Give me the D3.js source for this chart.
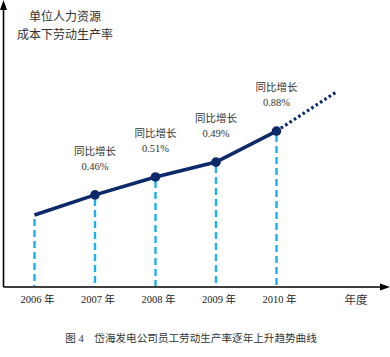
<!DOCTYPE html>
<html><head><meta charset="utf-8">
<script src="https://cdn.jsdelivr.net/npm/d3@7/dist/d3.min.js"></script>
<style>body{margin:0;background:#fff}svg{display:block}</style>
</head><body><svg id="c" width="390" height="357"></svg>
<script>
const years = [2006, 2007, 2008, 2009, 2010];
const productivity = [2.57, 3.29, 3.93, 4.46, 5.57];
const projYear = [2010, 2011];
const projValue = [5.57, 6.98];
const growthLabels = [null, "0.46%", "0.51%", "0.49%", "0.88%"];
const growthTitle = "同比增长";
const tickLabels = ["2006 年", "2007 年", "2008 年", "2009 年", "2010 年"];
const xAxisTitle = "年度";
const yAxisTitle = ["单位人力资源", "成本下劳动生产率"];
const caption = "图 4　岱海发电公司员工劳动生产率逐年上升趋势曲线";

const svg = d3.select("#c");
const font = "'Liberation Serif','Noto Sans CJK SC',serif";
const x = d3.scaleLinear().domain([2006, 2010]).range([34.5, 276.5]);
const y = d3.scaleLinear().domain([0, 10]).range([287, 7]);
const axisY = 287, axisX = 3.5;

// axes
svg.append("line").attr("x1", axisX).attr("x2", axisX).attr("y1", axisY).attr("y2", 8)
  .attr("stroke", "#000").attr("stroke-width", 1.6);
svg.append("path").attr("d", `M${axisX},0 L${axisX-3.5},10 L${axisX+3.5},10 Z`).attr("fill", "#000");
svg.append("line").attr("x1", axisX).attr("x2", 381).attr("y1", axisY).attr("y2", axisY)
  .attr("stroke", "#000").attr("stroke-width", 1.6);
svg.append("path").attr("d", `M390,${axisY} L380,${axisY-3.5} L380,${axisY+3.5} Z`).attr("fill", "#000");

// dashed drop lines
svg.selectAll("line.drop").data(years).join("line").attr("class", "drop")
  .attr("x1", d => x(d)).attr("x2", d => x(d))
  .attr("y1", (d, i) => y(productivity[i]) + 4).attr("y2", axisY - 1)
  .attr("stroke", "#1cb2ee").attr("stroke-width", 2.4).attr("stroke-dasharray", "7,4");

// main line
const line = d3.line().x(d => x(d[0])).y(d => y(d[1]));
svg.append("path").datum(years.map((d, i) => [d, productivity[i]]))
  .attr("d", line).attr("fill", "none").attr("stroke", "#0c2a6a").attr("stroke-width", 3.6);
svg.append("path").datum(projYear.map((d, i) => [d, projValue[i]]))
  .attr("d", line).attr("fill", "none").attr("stroke", "#0c2a6a").attr("stroke-width", 3.2)
  .attr("stroke-dasharray", "2.6,2.6");
svg.selectAll("circle").data(years.slice(1)).join("circle")
  .attr("cx", d => x(d)).attr("cy", (d, i) => y(productivity[i + 1])).attr("r", 4.8)
  .attr("fill", "#0c2a6a");

// annotations
years.forEach((yr, i) => {
  if (!growthLabels[i]) return;
  const cy = y(productivity[i]);
  svg.append("text").attr("x", x(yr)).attr("y", cy - 40).attr("text-anchor", "middle")
    .attr("font-family", font).attr("font-size", 10.5).attr("fill", "#333").text(growthTitle);
  svg.append("text").attr("x", x(yr)).attr("y", cy - 25).attr("text-anchor", "middle")
    .attr("font-family", font).attr("font-size", 10.5).attr("fill", "#333").text(growthLabels[i]);
});

// tick labels
svg.selectAll("text.tick").data(years).join("text").attr("class", "tick")
  .attr("x", d => x(d) + 3).attr("y", 303).attr("text-anchor", "middle")
  .attr("font-family", font).attr("font-size", 10.5).attr("fill", "#222")
  .text((d, i) => tickLabels[i]);
svg.append("text").attr("x", 356).attr("y", 304).attr("text-anchor", "middle")
  .attr("font-family", font).attr("font-size", 11.5).attr("fill", "#333").text(xAxisTitle);

// y title
yAxisTitle.forEach((t, i) => {
  svg.append("text").attr("x", 65).attr("y", 21 + i * 18).attr("text-anchor", "middle")
    .attr("font-family", font).attr("font-size", 12).attr("fill", "#333").text(t);
});

// caption
svg.append("text").attr("x", 191).attr("y", 342).attr("text-anchor", "middle")
  .attr("font-family", font).attr("font-size", 10.6).attr("fill", "#333").text(caption);
</script></body></html>
